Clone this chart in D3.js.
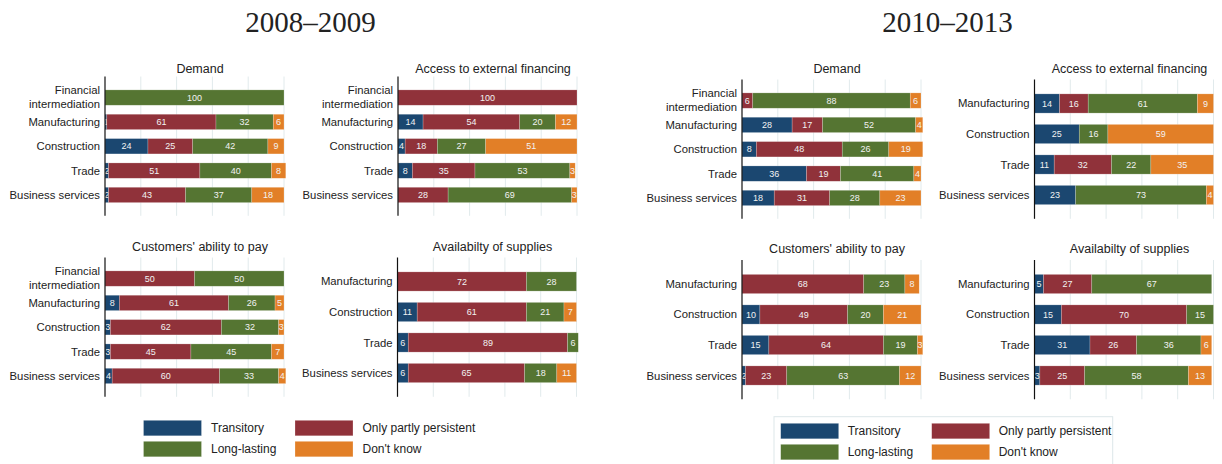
<!DOCTYPE html>
<html>
<head>
<meta charset="utf-8">
<script src="https://cdn.jsdelivr.net/npm/d3@7"></script>
<style>
  body { margin: 0; background: #fff; }
  svg text { font-family: "Liberation Sans", Arial, sans-serif; }
</style>
</head>
<body>
<div id="chart-area"></div>
<script>
// Persistence of the effects of the crisis, share of firms by sector (%)

var seriesNames = ["Transitory", "Only partly persistent", "Long-lasting", "Don't know"];
var seriesColors = ["#1b4770", "#90323a", "#557532", "#e27f27"];

var sectors5 = ["Financial intermediation", "Manufacturing", "Construction", "Trade", "Business services"];
var sectors4 = ["Manufacturing", "Construction", "Trade", "Business services"];

var periods = ["2008\u20132009", "2010\u20132013"];
var panelTitles = ["Demand", "Access to external financing", "Customers' ability to pay", "Availabilty of supplies"];

// [transitory, only partly persistent, long-lasting, don't know]
var demand0809 = [[0, 0, 100, 0], [1, 61, 32, 6], [24, 25, 42, 9], [2, 51, 40, 8], [2, 43, 37, 18]];
var financing0809 = [[0, 100, 0, 0], [14, 54, 20, 12], [4, 18, 27, 51], [8, 35, 53, 3], [0, 28, 69, 3]];
var customers0809 = [[0, 50, 50, 0], [8, 61, 26, 5], [3, 62, 32, 3], [3, 45, 45, 7], [4, 60, 33, 4]];
var supplies0809 = [[0, 72, 28, 0], [11, 61, 21, 7], [6, 89, 6, 0], [6, 65, 18, 11]];

var demand1013 = [[0, 6, 88, 6], [28, 17, 52, 4], [8, 48, 26, 19], [36, 19, 41, 4], [18, 31, 28, 23]];
var financing1013 = [[14, 16, 61, 9], [25, 0, 16, 59], [11, 32, 22, 35], [23, 0, 73, 4]];
var customers1013 = [[0, 68, 23, 8], [10, 49, 20, 21], [15, 64, 19, 3], [2, 23, 63, 12]];
var supplies1013 = [[5, 27, 67, 0], [15, 70, 15, 0], [31, 26, 36, 6], [3, 25, 58, 13]];

var xTicks = [0, 20, 40, 60, 80, 100];

// panel placement
var plotW = 179;
var bandH = 120.5;

var panels = [
  { title: panelTitles[0], rows: sectors5, values: demand0809,    x0: 105,   top: 86,    titleY: 73.3 },
  { title: panelTitles[1], rows: sectors5, values: financing0809, x0: 398,   top: 86,    titleY: 73.3 },
  { title: panelTitles[2], rows: sectors5, values: customers0809, x0: 105,   top: 267,   titleY: 250.7 },
  { title: panelTitles[3], rows: sectors4, values: supplies0809,  x0: 397.5, top: 267,   titleY: 250.7 },
  { title: panelTitles[0], rows: sectors5, values: demand1013,    x0: 742,   top: 89,    titleY: 73.3 },
  { title: panelTitles[1], rows: sectors4, values: financing1013, x0: 1034.5, top: 89,   titleY: 73.3 },
  { title: panelTitles[2], rows: sectors4, values: customers1013, x0: 742,   top: 269.5, titleY: 253 },
  { title: panelTitles[3], rows: sectors4, values: supplies1013,  x0: 1034.5, top: 269.5, titleY: 253 }
];

var svg = d3.select("#chart-area").append("svg")
    .attr("width", 1222)
    .attr("height", 464);

// period headings
svg.selectAll(".period")
  .data(periods)
  .enter().append("text")
    .attr("class", "period")
    .attr("x", function(d, i) { return i == 0 ? 310.5 : 947.5; })
    .attr("y", 32.3)
    .attr("text-anchor", "middle")
    .attr("font-family", "Liberation Serif, Times New Roman, serif")
    .style("font-family", "'Liberation Serif', 'Times New Roman', serif")
    .attr("font-size", "29px")
    .attr("fill", "#222")
    .text(function(d) { return d; });

var stack = d3.stack().keys([0, 1, 2, 3]);

panels.forEach(function(p) {
  var g = svg.append("g");

  var x = d3.scaleLinear()
    .domain([0, 100])
    .range([p.x0, p.x0 + plotW]);

  var y = d3.scaleBand()
    .domain(p.rows)
    .range([p.top, p.top + bandH])
    .paddingInner(0.37)
    .paddingOuter(0.16);

  var yTop = p.top - 9.5, yBot = p.top + bandH + 9.3;

  // gridlines
  g.selectAll(".grid")
    .data(xTicks.slice(1))
    .enter().append("line")
      .attr("class", "grid")
      .attr("x1", function(d) { return x(d); })
      .attr("x2", function(d) { return x(d); })
      .attr("y1", yTop)
      .attr("y2", yBot)
      .attr("stroke", "#e1eaec")
      .attr("stroke-width", 1);

  // panel title
  g.append("text")
    .attr("x", x(50) + 5.5)
    .attr("y", p.titleY)
    .attr("text-anchor", "middle")
    .attr("font-size", "12.5px")
    .attr("fill", "#222")
    .text(p.title);

  var rows = p.values.map(function(v, i) {
    return { sector: p.rows[i], 0: v[0], 1: v[1], 2: v[2], 3: v[3] };
  });
  var layers = stack(rows);

  layers.forEach(function(layer, k) {
    var segs = layer.filter(function(d) { return d.data[k] > 0; });

    g.selectAll(".seg" + k)
      .data(segs)
      .enter().append("rect")
        .attr("x", function(d) { return x(d[0]); })
        .attr("y", function(d) { return y(d.data.sector); })
        .attr("width", function(d) { return x(d[1]) - x(d[0]); })
        .attr("height", y.bandwidth())
        .attr("fill", seriesColors[k])
        .attr("stroke", "#ffffff")
        .attr("stroke-opacity", 0.35)
        .attr("stroke-width", 0.6);

    g.selectAll(".lab" + k)
      .data(segs)
      .enter().append("text")
        .attr("x", function(d) { return (x(d[0]) + x(d[1])) / 2; })
        .attr("y", function(d) { return y(d.data.sector) + y.bandwidth() / 2 + 3.2; })
        .attr("text-anchor", "middle")
        .attr("font-size", "9px")
        .attr("fill", "#f2f2f2")
        .text(function(d) { return d.data[k]; });
  });

  // category labels
  var yAxis = g.append("g")
    .attr("transform", "translate(" + (p.x0) + ",0)")
    .call(d3.axisLeft(y).tickSize(0).tickPadding(5));
  yAxis.select(".domain").remove();
  yAxis.selectAll("text")
    .attr("font-size", "11.3px")
    .attr("fill", "#222")
    .attr("dy", null)
    .attr("y", 4)
    .each(function(d) {
      if (d == "Financial intermediation") {
        var t = d3.select(this).text(null).attr("y", null);
        t.append("tspan").attr("x", -5).attr("y", -3.2).text("Financial");
        t.append("tspan").attr("x", -5).attr("y", 10.5).text("intermediation");
      }
    });

  // vertical axis line
  g.append("line")
    .attr("x1", p.x0)
    .attr("x2", p.x0)
    .attr("y1", yTop)
    .attr("y2", yBot)
    .attr("stroke", "#111")
    .attr("stroke-width", 1.2);
});

// legends
var legends = [
  { x: 143.5, y: 420.3, col2: 151.5, textDx: 67.5, box: false },
  { x: 780.7, y: 423.3, col2: 151,   textDx: 67,   box: true }
];
var legendOrder = [0, 1, 2, 3];

legends.forEach(function(l) {
  var lg = svg.append("g");
  if (l.box) {
    lg.append("rect")
      .attr("x", 774)
      .attr("y", 416.7)
      .attr("width", 338.7)
      .attr("height", 60)
      .attr("fill", "none")
      .attr("stroke", "#dde7e9")
      .attr("stroke-width", 1);
  }
  var items = lg.selectAll(".item")
    .data(legendOrder)
    .enter().append("g")
      .attr("transform", function(d) {
        var col = d % 2 == 1 ? 1 : 0;
        var row = d >= 2 ? 1 : 0;
        return "translate(" + (l.x + col * l.col2) + "," + (l.y + row * 21) + ")";
      });
  items.append("rect")
    .attr("width", 58)
    .attr("height", 15.5)
    .attr("fill", function(d) { return seriesColors[d]; })
    .attr("stroke", "#ffffff")
    .attr("stroke-opacity", 0.4)
    .attr("stroke-width", 0.6);
  items.append("text")
    .attr("x", l.textDx)
    .attr("y", 12)
    .attr("font-size", "12px")
    .attr("fill", "#222")
    .text(function(d) { return seriesNames[d]; });
});
</script>
</body>
</html>
